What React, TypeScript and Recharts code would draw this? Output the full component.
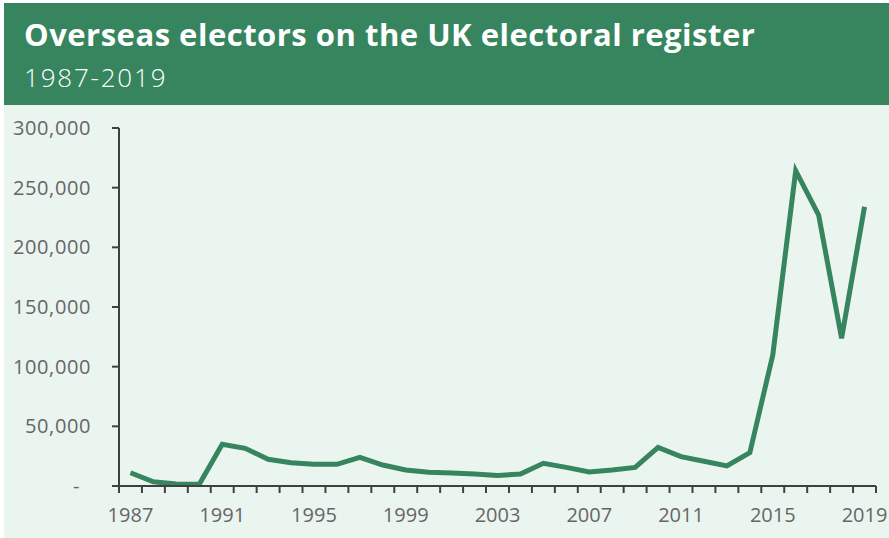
import React from 'react';
import { LineChart, Line, XAxis, YAxis } from 'recharts';

const years = [
  1987, 1988, 1989, 1990, 1991, 1992, 1993, 1994, 1995, 1996, 1997,
  1998, 1999, 2000, 2001, 2002, 2003, 2004, 2005, 2006, 2007, 2008,
  2009, 2010, 2011, 2012, 2013, 2014, 2015, 2016, 2017, 2018, 2019,
];

// overseas electors registered
const electors = [
  11100, 3600, 1700, 1400, 35000, 31600, 22400, 19500, 18200, 18200, 24000,
  17600, 13400, 11500, 10900, 10100, 8700, 10100, 19000, 15600, 11700, 13400,
  15600, 32400, 24600, 20700, 16800, 27900, 109800, 264200, 227100, 123800, 234000,
];

const yearLabels = [1987, 1991, 1995, 1999, 2003, 2007, 2011, 2015, 2019];
const valueTicks = [0, 50000, 100000, 150000, 200000, 250000, 300000];

const GREEN = '#36855E';
const MINT = '#EBF5EF';
const AXIS = '#404040';
const LABEL = '#666666';
const FONT = '"Open Sans", "Noto Sans", sans-serif';

const data = years.map((year, i) => ({ year, electors: electors[i] }));
// category boundaries, so tick marks fall between the years
const boundaries = [...years.map((y) => y - 0.5), years[years.length - 1] + 0.5];
const domain: [number, number] = [boundaries[0], boundaries[boundaries.length - 1]];

const ValueTick = (props: any) => {
  const { x, y, payload } = props;
  const v = payload.value;
  const text = v === 0 ? '-' : v.toLocaleString('en-GB');
  return (
    <text
      x={v === 0 ? x - 11 : x}
      y={y}
      dy="0.355em"
      textAnchor="end"
      fill={LABEL}
      fontSize={20}
      fontFamily={FONT}
      letterSpacing={0.6}
    >
      {text}
    </text>
  );
};

export default function App() {
  return (
    <div
      style={{
        position: 'absolute',
        left: 0,
        top: 0,
        width: 889,
        height: 538,
        background: '#ffffff',
        overflow: 'hidden',
      }}
    >
      <div
        style={{
          position: 'absolute',
          left: 4,
          top: 3,
          width: 885,
          height: 102,
          background: GREEN,
          color: '#ffffff',
          fontFamily: FONT,
        }}
      >
        <div
          style={{
            position: 'absolute',
            left: 20,
            top: 13,
            fontSize: 31,
            fontWeight: 700,
            lineHeight: '36px',
            letterSpacing: 0.5,
            whiteSpace: 'nowrap',
          }}
        >
          Overseas electors on the UK electoral register
        </div>
        <div
          style={{
            position: 'absolute',
            left: 20,
            top: 58,
            fontSize: 26,
            fontWeight: 300,
            lineHeight: '32px',
            letterSpacing: 1.8,
            whiteSpace: 'nowrap',
          }}
        >
          1987-2019
        </div>
      </div>
      <div
        style={{
          position: 'absolute',
          left: 4,
          top: 105,
          width: 885,
          height: 433,
          background: MINT,
        }}
      >
        <LineChart
          width={885}
          height={433}
          data={data}
          margin={{ top: 23, right: 13, left: 0, bottom: 0 }}
        >
          <XAxis
            xAxisId="a_marks"
            dataKey="year"
            type="number"
            domain={domain}
            ticks={boundaries}
            interval={0}
            height={1}
            tickFormatter={() => ''}
            tickSize={7}
            axisLine={{ stroke: AXIS, strokeWidth: 2 }}
            tickLine={{ stroke: AXIS, strokeWidth: 2 }}
          />
          <XAxis
            xAxisId="b_labels"
            dataKey="year"
            type="number"
            domain={domain}
            ticks={yearLabels}
            interval={0}
            height={51}
            axisLine={false}
            tickLine={false}
            tickSize={6}
            tickMargin={15}
            tick={{ fill: LABEL, fontSize: 20, fontFamily: FONT }}
          />
          <YAxis
            type="number"
            domain={[0, 300000]}
            ticks={valueTicks}
            interval={0}
            width={115}
            tickSize={7}
            tickMargin={21}
            axisLine={{ stroke: AXIS, strokeWidth: 2 }}
            tickLine={{ stroke: AXIS, strokeWidth: 2 }}
            tick={<ValueTick />}
          />
          <Line
            xAxisId="a_marks"
            type="linear"
            dataKey="electors"
            stroke={GREEN}
            strokeWidth={5}
            dot={false}
            isAnimationActive={false}
          />
        </LineChart>
      </div>
    </div>
  );
}
